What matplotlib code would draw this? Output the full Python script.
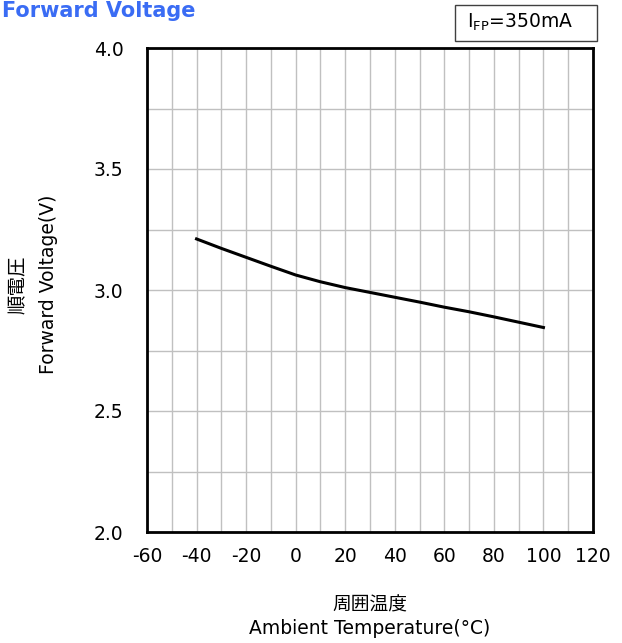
import matplotlib
matplotlib.use("Agg")
import matplotlib.pyplot as plt
from matplotlib.patches import Rectangle
import numpy as np

plt.rcParams['font.family'] = ['DejaVu Sans', 'Noto Sans CJK JP']

temperature = [-40, -30, -20, -10, 0, 10, 20, 30, 40, 50, 60, 70, 80, 90, 100]
voltage = [3.211, 3.172, 3.135, 3.098, 3.062, 3.034, 3.010, 2.990, 2.970, 2.950,
           2.929, 2.910, 2.889, 2.867, 2.845]
x_ticks = [-60, -40, -20, 0, 20, 40, 60, 80, 100, 120]
y_ticks = [2.0, 2.5, 3.0, 3.5, 4.0]

fig = plt.figure(figsize=(6.22, 6.43), dpi=100)
ax = fig.add_axes([147/622, 1-532/643, 446/622, 484/643])

ax.plot(temperature, voltage, color='black', lw=2.2, zorder=3)

ax.set_xlim(-60, 120)
ax.set_ylim(2.0, 4.0)
ax.set_xticks(x_ticks)
ax.set_xticklabels([str(t) for t in x_ticks])
ax.set_yticks(y_ticks)
ax.set_yticklabels([f"{v:.1f}" for v in y_ticks])
ax.set_xticks(np.arange(-60, 121, 10), minor=True)
ax.set_yticks(np.arange(2.0, 4.01, 0.25), minor=True)
ax.grid(which='both', color='#c0c0c0', lw=1.0)
ax.tick_params(which='both', length=0, labelsize=13.5, colors='black')
ax.tick_params(axis='x', pad=11)
ax.tick_params(axis='y', pad=17)
for s in ax.spines.values():
    s.set_linewidth(2)
    s.set_color('black')

fig.text(370/622, 1-605/643, "周囲温度", ha='center', va='center', fontsize=13.5,
         family=['Noto Sans CJK JP', 'DejaVu Sans'])
fig.text(370/622, 1-629/643, "Ambient Temperature(°C)", ha='center', va='center', fontsize=13.5)
fig.text(18/622, 1-285/643, "順電圧", ha='center', va='center', rotation=90, fontsize=14,
         family=['Noto Sans CJK JP', 'DejaVu Sans'])
fig.text(48/622, 1-284/643, "Forward Voltage(V)", ha='center', va='center', rotation=90, fontsize=13.5)

fig.text(2/622, 1-1/643, "Forward Voltage", ha='left', va='top', fontsize=15,
         fontweight='bold', color='#3a6cf4')

fig.patches.append(Rectangle((455/622, 1-41/643), 142/622, 36/643, transform=fig.transFigure,
                             fc='white', ec='#404040', lw=1))
fig.text(467/622, 1-22/643, r"I$_{\mathregular{FP}}$=350mA", ha='left', va='center', fontsize=13.5)

fig.savefig("out.png", dpi=100)
